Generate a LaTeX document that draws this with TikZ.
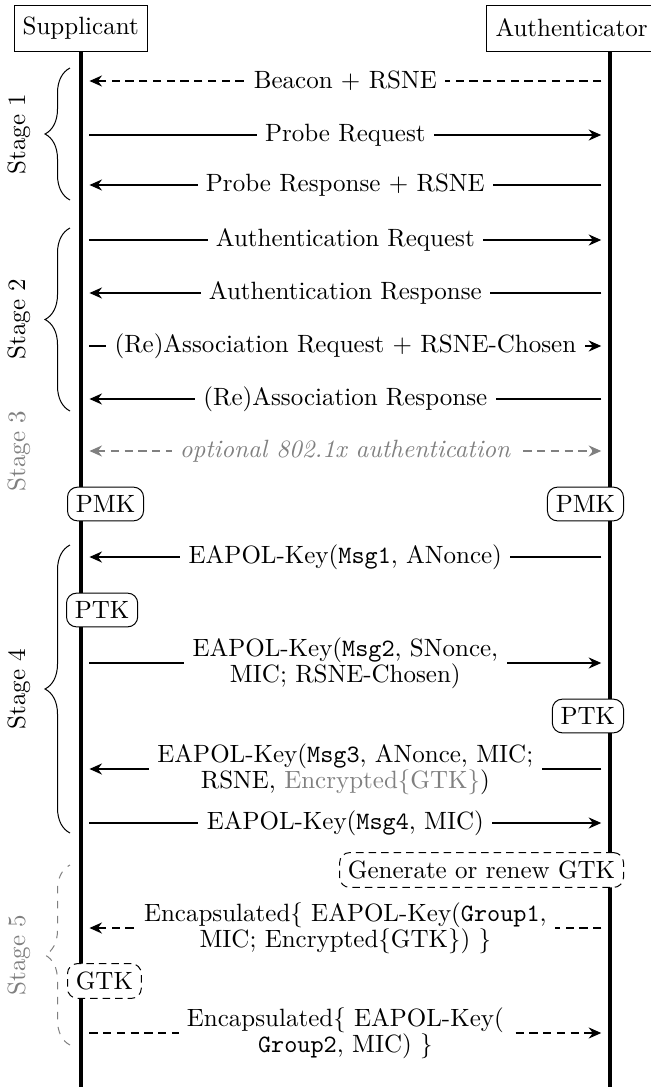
\documentclass[tikz,border=0pt]{standalone}
\usetikzlibrary{arrows.meta,decorations.pathreplacing}

\begin{document}
\begin{tikzpicture}[x=0.4pt,y=-0.4pt,
    font=\fontsize{10}{10.5}\selectfont,
    >={Stealth[length=5pt,width=4.4pt]},
    actor/.style={draw,rectangle,minimum height=18.4pt,inner xsep=3.33pt},
    lifeline/.style={line width=1.7pt},
    keybox/.style={draw,rounded corners=4pt,fill=white,inner sep=3.33pt},
    newkey/.style={keybox,dash pattern=on 3pt off 2pt},
    msg/.style={thick,->,shorten >=3.5pt,shorten <=3.5pt},
    dashes/.style={dash pattern=on 3.3pt off 2.2pt},
    txt/.style={fill=white,align=center},
    stagebrace/.style={decorate,decoration={brace,amplitude=10pt}},
    stagelabel/.style={rotate=90}]
    \useasboundingbox (0,0) rectangle (651,1087);

    % actors and lifelines
    \node[actor] (sup) at (80.7,28) {Supplicant};
    \node[actor,anchor=west,inner xsep=3.6pt] (auth) at (486,28) {Authenticator};
    \coordinate (supend) at (80.7,1087);
    \coordinate (authend) at (610,1087);
    \draw[lifeline] (sup) -- (supend);
    \draw[lifeline] (auth.south -| authend) -- (authend);

    % message rows
    \foreach \n/\y in {beacon/81, preq/135, presp/185, areq/240, aresp/293,
        rreq/346, rresp/399, dotx/451, m1/557, m2/663, m3/769, m4/823,
        g1/928, g2/1033}
    {
        \coordinate (s-\n) at (80.7,\y);
        \coordinate (a-\n) at (610,\y);
    }

    % stage 1 and 2
    \draw[msg,dashes] (a-beacon) -- node[txt] {Beacon + RSNE} (s-beacon);
    \draw[msg] (s-preq) -- node[txt] {Probe Request} (a-preq);
    \draw[msg] (a-presp) -- node[txt] {Probe Response + RSNE} (s-presp);
    \draw[msg] (s-areq) -- node[txt] {Authentication Request} (a-areq);
    \draw[msg] (a-aresp) -- node[txt] {Authentication Response} (s-aresp);
    \draw[msg] (s-rreq) -- node[txt] {(Re)Association Request + RSNE-Chosen} (a-rreq);
    \draw[msg] (a-rresp) -- node[txt] {(Re)Association Response} (s-rresp);

    % stage 3
    \draw[msg,dashes,gray,<->] (s-dotx) -- node[txt] {\textit{optional 802.1x authentication}} (a-dotx);
    \node[keybox,anchor=west] (pmks) at (67,504) {PMK};
    \node[keybox,anchor=east] (pmka) at (624,504) {PMK};

    % stage 4: 4-way handshake
    \draw[msg] (a-m1) -- node[txt] {EAPOL-Key(\texttt{Msg1}, ANonce)} (s-m1);
    \node[keybox,anchor=west] (ptks) at (66,610) {PTK};
    \draw[msg] (s-m2) -- node[txt] {EAPOL-Key(\texttt{Msg2}, SNonce,\\ MIC; RSNE-Chosen)} (a-m2);
    \node[keybox,anchor=east] (ptka) at (624,716) {PTK};
    \draw[msg] (a-m3) -- node[txt] {EAPOL-Key(\texttt{Msg3}, ANonce, MIC;\\ RSNE, \textcolor{gray}{Encrypted\{GTK\}})} (s-m3);
    \draw[msg] (s-m4) -- node[txt] {EAPOL-Key(\texttt{Msg4}, MIC)} (a-m4);

    % stage 5: group key handshake
    \node[newkey,anchor=east] (gtka) at (624,870) {Generate or renew GTK};
    \draw[msg,dashes] (a-g1) -- node[txt] {Encapsulated\{ EAPOL-Key(\texttt{Group1},\\ MIC; Encrypted\{GTK\}) \}} (s-g1);
    \node[newkey,anchor=west] (gtks) at (67,981) {GTK};
    \draw[msg,dashes] (s-g2) -- node[txt] {Encapsulated\{ EAPOL-Key(\\ \texttt{Group2}, MIC) \}} (a-g2);

    % stages
    \draw[stagebrace] (70,200) -- (70,68);
    \draw[stagebrace] (70,411) -- (70,228);
    \draw[stagebrace] (70,833) -- (70,545);
    \draw[stagebrace,gray,dashed] (70,1045) -- (70,865);
    \node[stagelabel] (st1) at (19,134) {Stage 1};
    \node[stagelabel] (st2) at (19,319) {Stage 2};
    \node[stagelabel,gray] (st3) at (19,451) {Stage 3};
    \node[stagelabel] (st4) at (19,689) {Stage 4};
    \node[stagelabel,gray] (st5) at (19,955) {Stage 5};
\end{tikzpicture}
\end{document}
